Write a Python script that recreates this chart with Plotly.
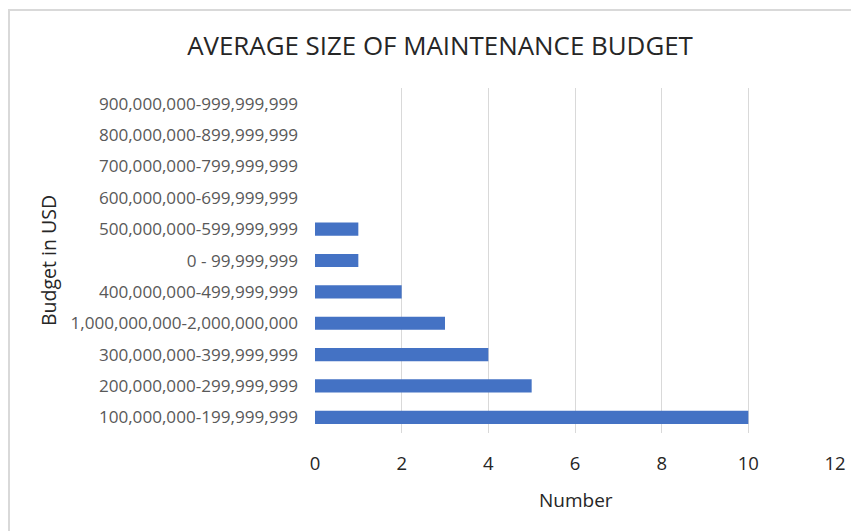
import plotly.graph_objects as go

categories = [
    "100,000,000-199,999,999",
    "200,000,000-299,999,999",
    "300,000,000-399,999,999",
    "1,000,000,000-2,000,000,000",
    "400,000,000-499,999,999",
    "0 - 99,999,999",
    "500,000,000-599,999,999",
    "600,000,000-699,999,999",
    "700,000,000-799,999,999",
    "800,000,000-899,999,999",
    "900,000,000-999,999,999",
]
values = [10, 5, 4, 3, 2, 1, 1, 0, 0, 0, 0]
x_ticks = [0, 2, 4, 6, 8, 10, 12]

OFF = 8  # page body margin
W, H = 859 - OFF, 531 - OFF
# target page pixel positions of plot area
PL, PR, PT, PB = 315, 835, 88, 433
ml, mt = PL - OFF, PT - OFF
mr, mb = W - (PR - OFF), H - (PB - OFF)
pw, ph = W - ml - mr, H - mt - mb

def px_x(p):
    return (p - PL) / pw

def px_y(p):
    return (PB - p) / ph

fig = go.Figure(go.Bar(
    x=values, y=categories, orientation="h",
    marker=dict(color="#4472c4", line=dict(width=0)),
    width=0.42,
))

fig.update_layout(
    width=W, height=H,
    margin=dict(l=ml, r=mr, t=mt, b=mb),
    paper_bgcolor="white", plot_bgcolor="white",
    showlegend=False,
    title=dict(text="AVERAGE SIZE OF MAINTENANCE BUDGET",
               font=dict(family="Open Sans", size=25.9, color="#262626"),
               x=(440 - OFF) / W, xref="container", xanchor="center",
               y=1 - (46 - OFF) / H, yref="container", yanchor="middle"),
    font=dict(family="Open Sans"),
)
fig.update_xaxes(
    range=[0, 12], tickvals=x_ticks, showgrid=True, gridcolor="#d9d9d9", gridwidth=1,
    zeroline=False, showline=False, ticks="",
    tickfont=dict(family="Open Sans", size=18.5, color="#262626"),
    ticklabelstandoff=17,
)
fig.update_yaxes(
    categoryorder="array", categoryarray=categories,
    range=[-0.5, len(categories) - 0.5],
    showgrid=False, zeroline=False, showline=False, ticks="",
    tickfont=dict(family="Open Sans", size=17.1, color="#595959"),
    ticklabelstandoff=16,
)
fig.add_annotation(text="Number", xref="paper", yref="paper",
                   x=px_x(576), y=px_y(500), showarrow=False,
                   font=dict(family="Open Sans", size=19, color="#262626"),
                   xanchor="center", yanchor="middle")
fig.add_annotation(text="Budget in USD", xref="paper", yref="paper",
                   x=px_x(49), y=px_y(261), showarrow=False, textangle=-90,
                   font=dict(family="Open Sans", size=19.5, color="#262626"),
                   xanchor="center", yanchor="middle")
fig.add_shape(type="rect", xref="paper", yref="paper",
              x0=px_x(9), x1=px_x(880), y0=px_y(560), y1=px_y(10),
              line=dict(color="#d9d9d9", width=2), fillcolor="rgba(0,0,0,0)", layer="below")

fig.write_html("out.html")
